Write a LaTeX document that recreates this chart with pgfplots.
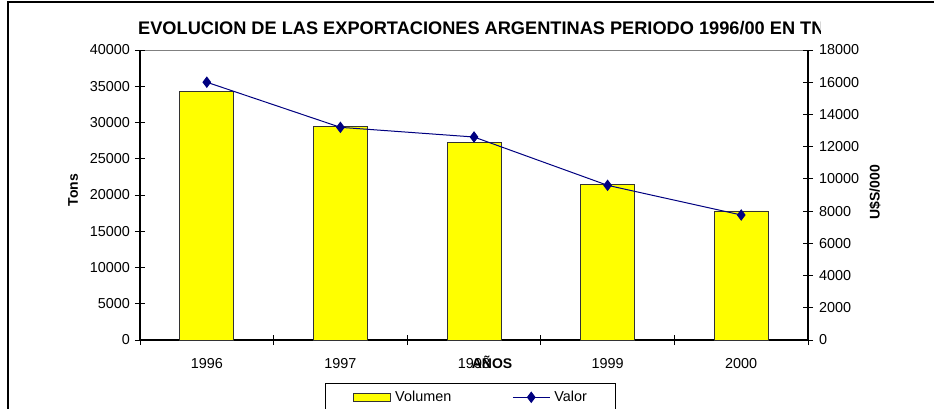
\documentclass[border=0pt]{standalone}
\usepackage{fontspec}
\setmainfont{Liberation Sans}
\usepackage{pgfplots}
\pgfplotsset{compat=1.18}

\definecolor{barfill}{HTML}{FFFF00}
\definecolor{navyline}{HTML}{000080}

\pgfplotsset{
  common/.style={
    scale only axis, width=668pt, height=290pt,
    at={(140pt,68pt)}, anchor=south west,
    xmin=-0.5, xmax=4.5, ymin=0,
    tick align=center, major tick length=10pt, minor tick length=10pt,
    every tick/.style={black, line width=0.9pt},
    axis line style={line width=1.1pt, black},
    ticklabel style={font=\fontsize{14.4}{16}\selectfont},
    scaled y ticks=false,
    /pgf/number format/assume math mode=true,
    /pgf/number format/1000 sep={},
    clip=false,
  },
  barlegend/.style={legend image code/.code={
    \draw[fill=barfill, draw=black!80, line width=0.8pt] (0pt,-4pt) rectangle (37pt,4pt);}},
  linelegend/.style={legend image code/.code={
    \draw[mark repeat=2, mark phase=2, ##1] plot coordinates {(0pt,0pt) (18.5pt,0pt) (37pt,0pt)};}},
}

\begin{document}
\begin{tikzpicture}[x=1pt,y=1pt]
\clip (0,0) rectangle (934,408);
% chart area frame (left and top edges are all that show)
\draw[line width=1.3pt] (8,-10) -- (8,406) -- (960,406);
% title, cut short as in the source
\begin{scope}
\clip (0,360) rectangle (820,400);
\node[anchor=base west, inner sep=0pt, font=\fontsize{18.2}{20}\selectfont\bfseries]
  at (138,373) {EVOLUCION DE LAS EXPORTACIONES ARGENTINAS PERIODO 1996/00 EN TN};
\end{scope}
\draw[gray, line width=0.8pt] (140,358) -- (808,358);

% volume (bars, left axis)
\begin{axis}[
    common,
    ymax=40000,
    axis lines*=left,
    ytick={0,5000,...,40000},
    yticklabel style={xshift=-1.5pt},
    xtick={0,...,4},
    xticklabels={1996,1997,1998,1999,2000},
    major x tick style={draw=none},
    minor xtick={-0.5,0.5,...,4.5},
    xticklabel style={yshift=-10pt},
    ylabel={Tons},
    ylabel style={at={(axis description cs:-0.1003,0.517)}, anchor=center,
      font=\fontsize{14}{16}\selectfont\bfseries},
    xlabel={AÑOS},
    xlabel style={at={(axis description cs:0.527,-0.076)}, anchor=center,
      font=\fontsize{14}{16}\selectfont\bfseries},
]
\addplot[ybar, bar width=54pt, fill=barfill, draw=black!80, line width=0.8pt]
  coordinates {(0,34250) (1,29500) (2,27300) (3,21400) (4,17800)};
\end{axis}

% value (line, right axis)
\begin{axis}[
    common,
    ymax=18000,
    axis x line=none,
    axis y line*=right,
    ytick={0,2000,...,18000},
    yticklabel style={xshift=2.5pt},
    ylabel={U\$S/000},
    ylabel style={at={(axis description cs:1.1003,0.510)}, anchor=center,
      font=\fontsize{14}{16}\selectfont\bfseries},
    legend columns=2,
    legend style={at={(axis description cs:0.277,-0.148)}, anchor=north west,
      draw=black, line width=0.8pt, font=\fontsize{14.4}{16}\selectfont,
      inner xsep=28pt, inner ysep=6pt,
      nodes={inner xsep=1pt},
      /tikz/every odd column/.append style={column sep=3pt},
      /tikz/every even column/.append style={column sep=60pt}},
]
\addlegendimage{barlegend}
\addlegendentry{Volumen}
\addplot[navyline, line width=1pt, mark=diamond*, mark size=5pt, linelegend]
  coordinates {(0,16000) (1,13200) (2,12600) (3,9600) (4,7760)};
\addlegendentry{Valor}
\end{axis}
\end{tikzpicture}
\end{document}
